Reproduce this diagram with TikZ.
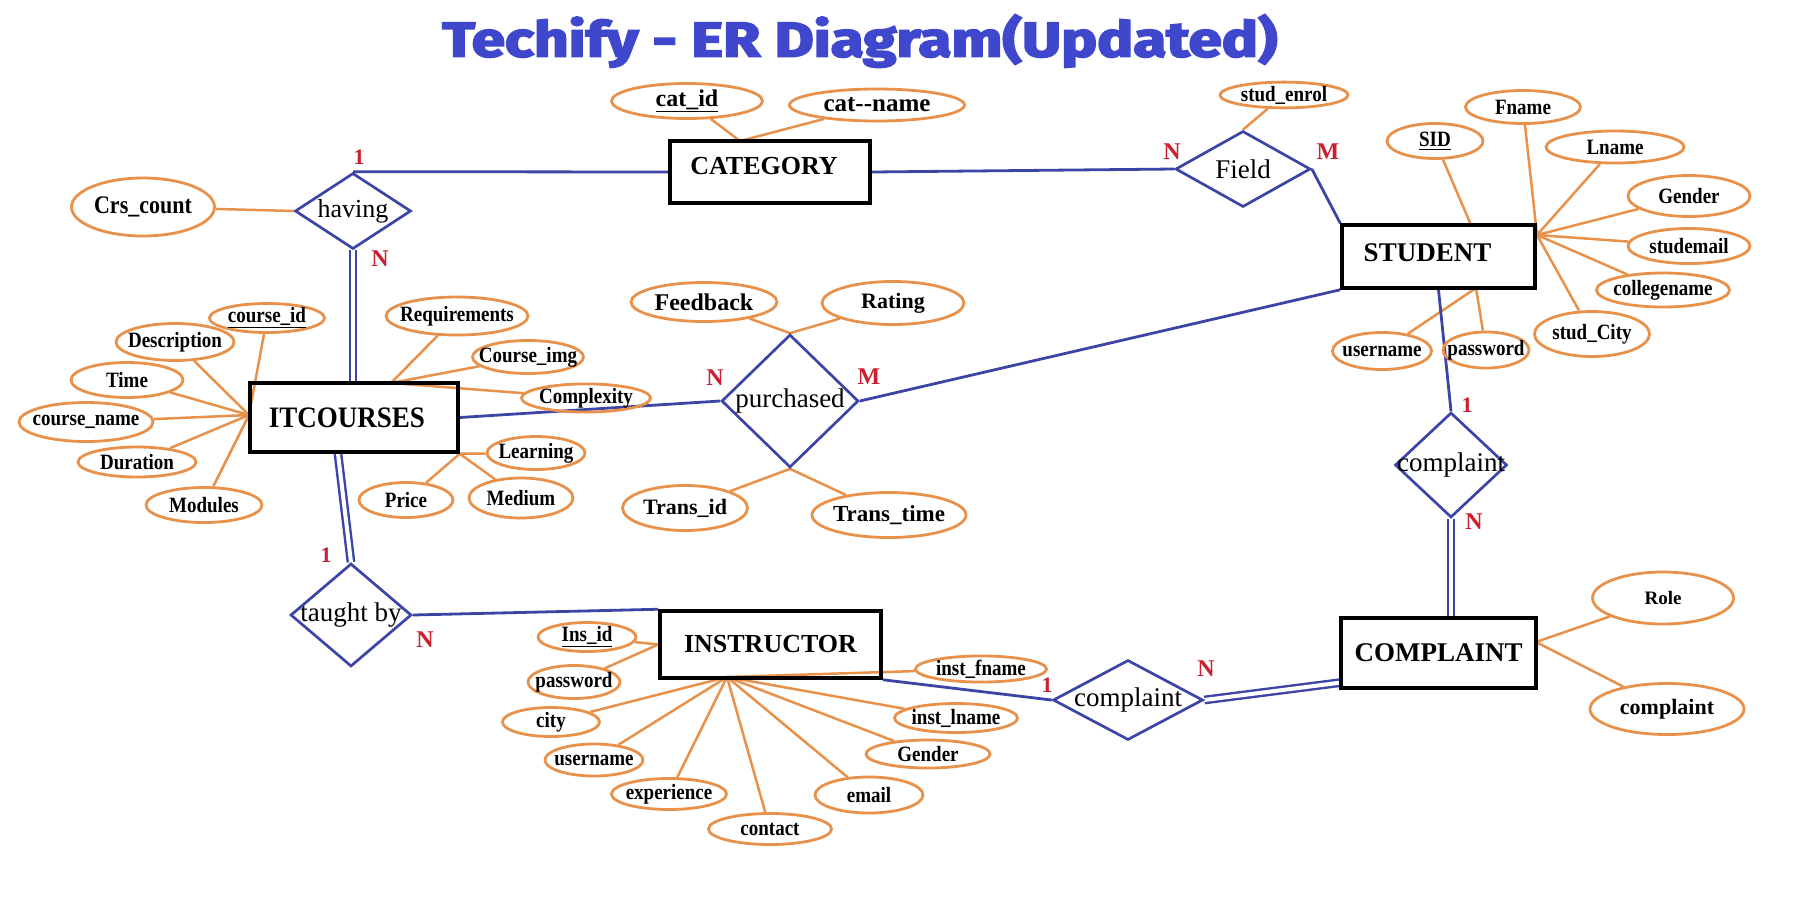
\documentclass[tikz,border=0pt]{standalone}
\usepackage{graphicx}
\usepackage{fontspec}
\setmainfont{Liberation Serif}
\newfontfamily\titlefont{Fira Sans}[BoldFeatures={FakeBold=3.5}]
\usetikzlibrary{shapes.geometric,calc,backgrounds}
\definecolor{bl}{RGB}{60,68,165}
\definecolor{ttl}{RGB}{63,72,204}
\definecolor{org}{RGB}{232,145,74}
\definecolor{rd}{RGB}{204,31,47}
\newcommand{\erlab}[1]{\makebox[0pt]{#1}}
\newcommand{\erlabt}[1]{\makebox[0pt]{\scalebox{1}[1.15]{#1}}}
\begin{document}
\begin{tikzpicture}[x=1pt,y=-1pt,
  attr/.style={ellipse, draw=org, line width=2.8pt, inner sep=0pt, font=\bfseries\fontsize{19}{21}\selectfont},
  fs/.style={font=\bfseries\fontsize{#1}{#1}\selectfont},
  sz/.style 2 args={minimum width=#1pt, minimum height=#2pt},
  ent/.style={rectangle, draw=black, line width=3.5pt, inner sep=0pt, font=\bfseries\fontsize{27}{30}\selectfont},
  rel/.style={diamond, draw=bl, line width=2.7pt, inner sep=0pt, font=\fontsize{27}{30}\selectfont},
  al/.style={draw=org, line width=2.5pt},
  rl/.style={draw=bl, line width=2.8pt},
  dl/.style={draw=bl, line width=2.4pt, double=white, double distance=4pt},
  card/.style={text=rd, font=\bfseries\fontsize{24}{26}\selectfont, inner sep=0pt},
]
\useasboundingbox (0,0) rectangle (1802,922);

% title
\node[inner sep=0pt, text=ttl] (title) at (860,41) {\resizebox*{835pt}{53pt}{\titlefont\bfseries Techify - ER Diagram(Updated)}};

% entities
\node[ent, sz={200}{62}, font=\bfseries\fontsize{26}{28}\selectfont] (cat) at (770,172) {\erlab{\raisebox{6pt}[\height][\depth]{\hspace*{-12pt}CATEGORY}}};
\node[ent, sz={193}{63}] (stud) at (1438.5,256.5) {\erlab{\raisebox{4pt}[\height][\depth]{\hspace*{-22pt}STUDENT}}};
\node[ent, sz={208}{69}] (it) at (354,417.5) {\erlab{\hspace*{-14pt}\scalebox{1}[1.1]{ITCOURSES}}};
\node[ent, sz={221}{67}, font=\bfseries\fontsize{26}{28}\selectfont] (inst) at (770.5,644.5) {\erlab{INSTRUCTOR}};
\node[ent, sz={195}{70}] (comp) at (1438.5,653) {\erlab{COMPLAINT}};

% relationships
\node[rel, sz={116}{76}, font=\fontsize{26}{28}\selectfont] (having) at (353,211) {\erlab{having}};
\node[rel, sz={135}{76}] (field) at (1243,169) {\erlab{Field}};
\node[rel, sz={137}{133}] (pur) at (790,401) {\erlab{purchased}};
\node[rel, sz={121}{103}] (tb) at (351,615) {\erlab{taught by}};
\node[rel, sz={112}{105}] (cmp1) at (1451,465) {\erlab{complaint}};
\node[rel, sz={150}{80}] (cmp2) at (1128,700) {\erlab{complaint}};

% attributes of CATEGORY / having / Field
\node[attr, sz={151}{35}, fs=24] (catid) at (687,101) {\erlab{\underline{cat\_id}}};
\node[attr, sz={175}{32}, fs=25] (catname) at (877,105) {\erlab{cat-{}-name}};
\node[attr, sz={143}{58}, fs=22] (crs) at (143,207) {\erlabt{Crs\_count}};
\node[attr, sz={128}{24}] (enrol) at (1284,95) {\erlabt{stud\_enrol}};

% STUDENT attributes
\node[attr, sz={96}{35}] (sid) at (1435,141) {\erlabt{\underline{SID}}};
\node[attr, sz={115}{33}] (fname) at (1523,107) {\erlabt{Fname}};
\node[attr, sz={138}{32}] (lname) at (1615,147) {\erlabt{Lname}};
\node[attr, sz={122}{41}] (sgender) at (1689,196) {\erlabt{Gender}};
\node[attr, sz={122}{35}] (semail) at (1689,246) {\erlabt{studemail}};
\node[attr, sz={133}{34}] (college) at (1663,290) {\erlabt{collegename}};
\node[attr, sz={115}{45}] (scity) at (1592,334) {\erlabt{stud\_City}};
\node[attr, sz={99}{37}] (suser) at (1382,351) {\erlabt{username}};
\node[attr, sz={86}{36}] (spass) at (1486,350) {\erlabt{password}};

% COMPLAINT attributes
\node[attr, sz={141}{52}] (role) at (1663,598) {\erlab{Role}};
\node[attr, sz={154}{51}, fs=22] (compl) at (1667,709) {\erlab{complaint}};

% ITCOURSES attributes
\node[attr, sz={115}{29}] (cid) at (267,318) {\erlabt{\underline{course\_id}}};
\node[attr, sz={118}{37}] (desc) at (175,342) {\erlabt{Description}};
\node[attr, sz={112}{35}] (time) at (127,380) {\erlabt{Time}};
\node[attr, sz={134}{39}] (cname) at (86,422) {\erlabt{course\_name}};
\node[attr, sz={118}{30}] (dur) at (137,462) {\erlabt{Duration}};
\node[attr, sz={116}{35}] (mod) at (204,505) {\erlabt{Modules}};
\node[attr, sz={142}{38}] (req) at (457,316) {\erlabt{Requirements}};
\node[attr, sz={111}{33}] (img) at (528,357) {\erlabt{Course\_img}};
\node[attr, sz={129}{25}] (cplx) at (586,398) {\erlabt{Complexity}};
\node[attr, sz={98}{33}] (learn) at (536,453) {\erlabt{Learning}};
\node[attr, sz={94}{35}] (price) at (406,500) {\erlabt{Price}};
\node[attr, sz={104}{40}] (medium) at (521,498) {\erlabt{Medium}};

% purchased attributes
\node[attr, sz={146}{39}, fs=24] (feed) at (704,302) {\erlab{Feedback}};
\node[attr, sz={142}{43}, fs=22] (rating) at (893,303) {\erlab{Rating}};
\node[attr, sz={125}{45}, fs=22] (tid) at (685,508) {\erlab{Trans\_id}};
\node[attr, sz={154}{45}, fs=23] (ttime) at (889,515) {\erlab{Trans\_time}};

% INSTRUCTOR attributes
\node[attr, sz={98}{27}] (insid) at (587,637) {\erlabt{\underline{Ins\_id}}};
\node[attr, sz={92}{33}] (ipass) at (574,682) {\erlabt{password}};
\node[attr, sz={97}{29}] (icity) at (551,722) {\erlabt{city}};
\node[attr, sz={98}{32}] (iuser) at (594,760) {\erlabt{username}};
\node[attr, sz={115}{31}] (iexp) at (669,794) {\erlabt{experience}};
\node[attr, sz={123}{31}] (icont) at (770,829) {\erlabt{contact}};
\node[attr, sz={108}{36}] (iemail) at (869,795) {\erlabt{email}};
\node[attr, sz={124}{28}] (igender) at (928,754) {\erlabt{Gender}};
\node[attr, sz={123}{29}] (ilname) at (956,718) {\erlabt{inst\_lname}};
\node[attr, sz={131}{25}] (ifname) at (981,669) {\erlabt{inst\_fname}};

% junction points
\coordinate (catj) at (740,141);
\coordinate (sj) at (1537,235);
\coordinate (sidj) at (1471,225);
\coordinate (sbj) at (1476,288);
\coordinate (cj) at (1536,642);
\coordinate (itl) at (249,415);
\coordinate (itt) at (391,383);
\coordinate (ij) at (727,677);

% cardinalities
\node[card, font=\bfseries\fontsize{22}{24}\selectfont] (ch1) at (359,157) {1};
\node[card] (chN) at (380,259) {N};
\node[card] (cfN) at (1172,152) {N};
\node[card] (cfM) at (1328,152) {M};
\node[card] (cpN) at (715,378) {N};
\node[card] (cpM) at (869,377) {M};
\node[card, font=\bfseries\fontsize{22}{24}\selectfont] (ct1) at (326,555) {1};
\node[card] (ctN) at (425,640) {N};
\node[card, font=\bfseries\fontsize{22}{24}\selectfont] (cc21) at (1047,685) {1};
\node[card] (cc2N) at (1206,669) {N};
\node[card, font=\bfseries\fontsize{22}{24}\selectfont] (cc11) at (1467,405) {1};
\node[card] (cc1N) at (1474,522) {N};

\begin{scope}[on background layer]
% attribute links
\draw[al] (catid) -- (catj);
\draw[al] (catname) -- (catj);
\draw[al] (crs) -- (having.west);
\draw[al] (enrol) -- (field.north);
\draw[al] (sid) -- (sidj);
\foreach \a in {fname,lname,sgender,semail,college,scity} \draw[al] (\a) -- (sj);
\draw[al] (suser) -- (sbj);
\draw[al] (spass) -- (sbj);
\draw[al] (role) -- (cj);
\draw[al] (compl) -- (cj);
\foreach \a in {cid,desc,time,cname,dur,mod} \draw[al] (\a) -- (itl);
\foreach \a in {req,img,cplx} \draw[al] (\a) -- (itt);
\foreach \a in {learn,price,medium} \draw[al] (\a) -- (it.south east);
\draw[al] (feed) -- (pur.north);
\draw[al] (rating) -- (pur.north);
\draw[al] (tid) -- (pur.south);
\draw[al] (ttime) -- (pur.south);
\draw[al] (insid) -- (inst.west);
\draw[al] (ipass) -- (inst.west);
\foreach \a in {icity,iuser,iexp,icont,iemail,igender,ilname,ifname} \draw[al] (\a) -- (ij);

% relationship links
\draw[rl] (having.north) -- (cat.west);
\draw[rl] (cat.east) -- (field.west);
\draw[rl] (field.east) -- (stud.north west);
\draw[dl] (having.south) -- (having.south |- it.north);
\draw[dl] ($(it.south)+(-16,0)$) -- (tb.north);
\draw[rl] (it.east) -- (pur.west);
\draw[rl] (pur.east) -- (stud.south west);
\draw[rl] (tb.east) -- (inst.north west);
\draw[rl] (inst.south east) -- (cmp2.west);
\draw[dl] (cmp2.east) -- ($(comp.south west)+(0,-7)$);
\draw[rl] (stud.south) -- (cmp1.north);
\draw[dl] (cmp1.south) -- (cmp1.south |- comp.north);
\end{scope}
\end{tikzpicture}
\end{document}
